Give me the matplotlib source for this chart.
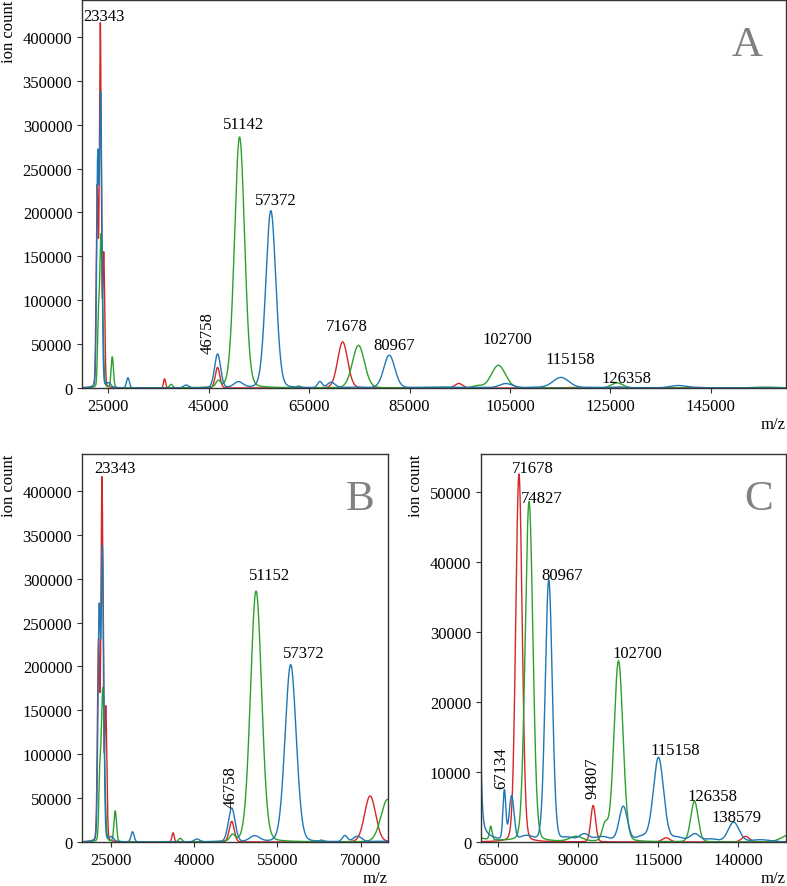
import numpy as np
import matplotlib
matplotlib.use("Agg")
import matplotlib.pyplot as plt
from matplotlib.ticker import FixedLocator

plt.rcParams['font.family'] = ['Liberation Serif', 'DejaVu Serif']
plt.rcParams['font.size'] = 12

# Peak tables: centre (m/z), height (ion count), width (sigma, m/z)
red_mz = [22780, 23400, 24080, 36200, 46758, 71678, 94807, 117500, 142300]
red_int = [225000, 410000, 150000, 10500, 23500, 52500, 5200, 600, 800]
red_sig = [200, 190, 190, 200, 450, 1000, 750, 1200, 1200]

green_mz = [22980, 23550, 25780, 37500, 46900, 51142, 62900, 74827, 89500,
            98500, 102700, 126358, 156000]
green_int = [55000, 175000, 35000, 4000, 7000, 286000, 1900, 48500, 700,
             2300, 25800, 5800, 1000]
green_sig = [170, 300, 230, 300, 450, 1000, 400, 1200, 2000,
             900, 1400, 1150, 2500]

blue_mz = [22880, 23480, 25100, 28900, 40500, 46758, 50900, 57372, 67134,
           69400, 80967, 92000, 104200, 115158, 126500, 138579,
           74000, 87000, 97500, 110000, 121000, 131500, 147000]
blue_int = [255000, 330000, 5000, 11500, 3200, 38500, 6500, 202000, 7000,
            6300, 37300, 1000, 5000, 12000, 1100, 2800,
            700, 500, 700, 700, 600, 400, 300]
blue_sig = [210, 230, 400, 280, 500, 600, 900, 1000, 450,
            750, 1100, 1500, 1300, 1600, 1500, 1700,
            2000, 2000, 2500, 2000, 2000, 2000, 3000]

# peak labels per panel
labels_A = ["23343", "51142", "57372", "46758", "71678", "80967", "102700", "115158", "126358"]
labels_B = ["23343", "51152", "57372", "46758"]
labels_C = ["71678", "74827", "80967", "102700", "115158", "126358", "138579", "67134", "94807"]

# tick values
xticks_A = [25000, 45000, 65000, 85000, 105000, 125000, 145000]
xticks_B = [25000, 40000, 55000, 70000]
xticks_C = [65000, 90000, 115000, 140000]
yticks_AB = [0, 50000, 100000, 150000, 200000, 250000, 300000, 350000, 400000]
yticks_C = [0, 10000, 20000, 30000, 40000, 50000]

# label placement (x, y in data units, rotation)
pos_A = [(24120, 419300, 0), (51970, 296600, 0), (58290, 209900, 0), (44840, 64200, 90),
         (72590, 65900, 0), (81850, 44300, 0), (104540, 50800, 0), (116950, 28400, 0),
         (128270, 6500, 0)]
pos_B = [(25790, 421000, 0), (53510, 299500, 0), (59810, 210300, 0), (46580, 64100, 90)]
pos_C = [(75900, 52770, 0), (78920, 48490, 0), (85240, 37540, 0), (108440, 26360, 0),
         (120530, 12560, 0), (131960, 5990, 0), (139490, 3040, 0), (66310, 10660, 90),
         (94590, 9230, 90)]

mz = np.arange(19000, 161000, 10.0)


def spectrum(centres, heights, widths, eta=0.1):
    # pseudo-Voigt peaks summed on the m/z grid
    y = np.zeros_like(mz)
    for c, h, s in zip(centres, heights, widths):
        g = np.exp(-0.5 * ((mz - c) / s) ** 2)
        hw = 1.1774 * s
        l = 1.0 / (1.0 + ((mz - c) / hw) ** 2)
        y += h * ((1 - eta) * g + eta * l)
    return y


red = spectrum(red_mz, red_int, red_sig)
green = spectrum(green_mz, green_int, green_sig)
blue = spectrum(blue_mz, blue_int, blue_sig)

W, H = 787, 887
fig = plt.figure(figsize=(W / 100, H / 100), dpi=100)
axA = fig.add_axes([82 / W, 1 - 389 / H, 704 / W, 388 / H])
axB = fig.add_axes([82 / W, 1 - 843 / H, 306 / W, 388 / H])
axC = fig.add_axes([481 / W, 1 - 843 / H, 305 / W, 388 / H])

panels = [
    (axA, (19750, 160000), (0, 442000), xticks_A, yticks_AB, labels_A, pos_A, "A", 0.945),
    (axB, (19800, 74900), (0, 442000), xticks_B, yticks_AB, labels_B, pos_B, "B", 0.908),
    (axC, (59850, 154900), (0, 55350), xticks_C, yticks_C, labels_C, pos_C, "C", 0.909),
]

for ax, xl, yl, xt, yt, labs, pos, letter, lx in panels:
    ax.plot(mz, red, color='#d62728', lw=1.0)
    ax.plot(mz, green, color='#2ca02c', lw=1.0)
    ax.plot(mz, blue, color='#1f77b4', lw=1.0)
    ax.set_xlim(*xl)
    ax.set_ylim(*yl)
    ax.xaxis.set_major_locator(FixedLocator(xt))
    ax.yaxis.set_major_locator(FixedLocator(yt))
    ax.ticklabel_format(style='plain', useOffset=False)
    for s in ax.spines.values():
        s.set_color('#333333')
        s.set_linewidth(1.0)
    ax.tick_params(colors='#333333', labelcolor='black', labelsize=12)
    ax.set_ylabel('ion count', loc='top', fontsize=12)
    ax.set_xlabel('m/z', loc='right', fontsize=12, labelpad=2)
    ax.text(lx, 0.884, letter, transform=ax.transAxes, fontsize=31,
            color='#808080', ha='center', va='center')
    for t, (x, y, rot) in zip(labs, pos):
        if rot:
            ax.text(x, y, t, rotation=90, ha='center', va='center', fontsize=12)
        else:
            ax.text(x, y, t, ha='center', va='baseline', fontsize=12)

fig.savefig('out.png', dpi=100)
